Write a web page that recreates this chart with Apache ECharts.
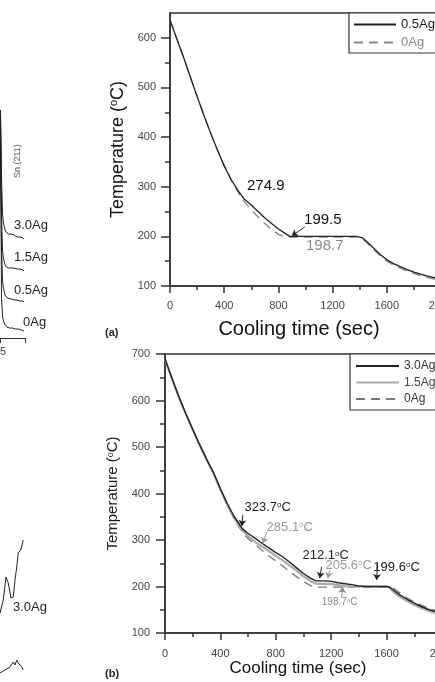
<!DOCTYPE html>
<html>
<head>
<meta charset="utf-8">
<script src="https://cdn.jsdelivr.net/npm/echarts@6/dist/echarts.min.js"></script>
<style>
html, body { margin: 0; padding: 0; background: #fff; }
#chart { width: 435px; height: 682px; }
</style>
</head>
<body>
<div id="chart"></div>
<script>
var FONT = "'Liberation Sans', Arial, sans-serif";

// (a) 冷却曲线
var timeA = [0, 50, 100, 150, 200, 250, 300, 350, 400, 450, 500, 545, 600, 650, 700, 750, 800, 850, 884, 950, 1050, 1150, 1250, 1380, 1420, 1450, 1500, 1550, 1600, 1650, 1700, 1750, 1800, 1850, 1900, 1950, 2000];
var tempA05 = [636, 598, 561, 521, 482, 444, 408, 374, 342, 315, 293, 276, 263, 250, 237, 226, 215, 206, 200, 200, 200, 200, 200, 200, 197, 190, 177, 164, 153, 145, 139, 133, 128, 124, 120, 117, 114];
var tempA0 = [636, 598, 561, 521, 482, 444, 408, 374, 342, 314, 290, 271, 253, 239, 226, 214, 204, 198.7, 198.7, 198.7, 198.7, 198.7, 198.7, 198.7, 195, 188, 174, 161, 150, 142, 136, 130, 125, 121, 117, 114, 111];

// (b) 冷却曲线
var timeB = [0, 50, 100, 150, 200, 250, 300, 350, 400, 450, 500, 560, 600, 650, 700, 750, 800, 850, 900, 950, 1000, 1050, 1090, 1150, 1200, 1250, 1300, 1350, 1400, 1450, 1500, 1550, 1600, 1620, 1650, 1700, 1750, 1800, 1850, 1900, 1950, 2000];
var tempB30 = [690, 648, 608, 572, 538, 505, 474, 445, 410, 378, 350, 324, 314, 304, 293, 283, 273, 264, 252, 240, 228, 218, 212, 212, 211, 208, 206, 204, 201, 200, 200, 200, 200, 199, 192, 181, 172, 164, 157, 151, 146, 141];
var tempB15 = [689, 647, 607, 571, 537, 504, 473, 443, 408, 376, 347, 320, 308, 296, 286, 276, 266, 256, 245, 234, 222, 212, 206, 205.6, 205, 203, 201, 200, 200, 200, 200, 200, 200, 198, 188, 177, 168, 160, 154, 148, 143, 138];
var tempB0 = [690, 648, 608, 572, 538, 505, 474, 445, 408, 375, 345, 316, 303, 290, 278, 266, 255, 244, 232, 221, 211, 202, 198.7, 198.7, 198.7, 198.7, 198.7, 198.7, 198.7, 198.7, 198.7, 198.7, 198.7, 198.7, 196, 185, 175, 167, 160, 154, 149, 144];

var timeTicks = [0, 400, 800, 1200, 1600, 2000];
var tempTicksA = [100, 200, 300, 400, 500, 600];
var tempMinorA = [150, 250, 350, 450, 550];

// 左侧 XRD（只露出一小段）
var xrdTheta = [44.9, 44.98, 45.02, 45.06, 45.1, 45.13, 45.18, 45.22, 45.27, 45.32, 45.38, 45.44, 45.5, 45.56, 45.62, 45.68, 45.74, 45.8, 45.86, 45.92, 45.96];
var xrd30 = [140, 200, 228, 160, 125, 116, 110, 107, 105, 104, 103, 104, 102, 103, 102, 101, 102, 101, 100, 100, 99];
var xrd15 = [100, 170, 222, 120, 88, 81, 75, 72, 71, 70, 71, 70, 69, 70, 69, 69, 70, 69, 68, 68, 67];
var xrd05 = [70, 140, 216, 90, 58, 51, 45, 42, 41, 40, 39, 39, 38, 38, 38, 38, 37, 37, 37, 37, 36];
var xrd0 = [40, 120, 210, 40, 22, 18, 14, 12, 11, 11, 10, 10, 10, 10, 9, 9, 9, 9, 8, 8, 7];
var xrdThetaB = [44.9, 45.0, 45.13, 45.24, 45.33, 45.44, 45.53, 45.6, 45.67, 45.73, 45.83, 45.91, 45.93];
var xrdB30 = [62, 69, 82, 105, 99, 84, 85, 102, 115, 129, 132, 140, 142];
var xrdLowTheta = [44.9, 45.0, 45.2, 45.4, 45.53, 45.6, 45.67, 45.73, 45.8, 45.87, 45.93];
var xrdLow = [8, 9, 12, 15, 20, 17, 22, 19, 21, 15, 12];

function pairs(xs, ys) {
	return xs.map(function(x, i) { return [x, ys[i]]; });
}

function note(text, coord, color, size) {
	return {
		coord: coord,
		label: { formatter: text, color: color, fontSize: size, rich: { s: { fontSize: size * 0.62, verticalAlign: 'top', color: color, fontFamily: FONT } } }
	};
}
function arrow(from, to, color) {
	return [{ coord: from, lineStyle: { color: color } }, { coord: to }];
}
function plain(v) {
	return String(v);
}

var axisLineStyle = { color: '#333', width: 1.5 };

function xrdLine(x, y, xi, yi) {
	return {
		type: 'line', xAxisIndex: xi, yAxisIndex: yi, data: pairs(x, y),
		symbol: 'none', silent: true, lineStyle: { color: '#222', width: 1 }
	};
}

var chart = echarts.init(document.getElementById('chart'));
chart.setOption({
	animation: false,
	backgroundColor: '#fff',
	textStyle: { fontFamily: FONT },
	grid: [
		{ left: -25, top: 98, width: 50, height: 240, outerBoundsMode: 'none' },
		{ left: -25, top: 500, width: 50, height: 182, outerBoundsMode: 'none' },
		{ left: 170, top: 13, width: 271, height: 273, outerBoundsMode: 'none', show: true, borderColor: '#333', borderWidth: 1.5 },
		{ left: 165, top: 354, width: 277, height: 279, outerBoundsMode: 'none', show: true, borderColor: '#333', borderWidth: 1.5 }
	],
	xAxis: [{
		gridIndex: 0, type: 'value', min: 44, max: 46, interval: 1,
		axisLine: { lineStyle: { color: '#333', width: 1 } },
		axisTick: { customValues: [45, 46], length: 5, lineStyle: { color: '#333' } },
		axisLabel: { customValues: [45], fontSize: 11, color: '#444', margin: 8 },
		splitLine: { show: false }
	}, {
		gridIndex: 1, type: 'value', min: 44, max: 46, show: false
	}, {
		gridIndex: 2, type: 'value', min: 0, max: 2000, interval: 400,
		name: 'Cooling time (sec)', nameLocation: 'middle', nameGap: 33,
		nameTextStyle: { fontSize: 20, color: '#111', padding: [0, 13, 0, 0] },
		axisLine: { lineStyle: axisLineStyle },
		axisTick: { length: 7, lineStyle: axisLineStyle },
		minorTick: { show: true, splitNumber: 2, length: 4, lineStyle: axisLineStyle },
		axisLabel: { customValues: timeTicks, formatter: plain, fontSize: 11, color: '#444', margin: 14 },
		splitLine: { show: false }
	}, {
		gridIndex: 3, type: 'value', min: 0, max: 2000, interval: 400,
		name: 'Cooling time (sec)', nameLocation: 'middle', nameGap: 26,
		nameTextStyle: { fontSize: 17, color: '#111', padding: [0, 11, 0, 0] },
		axisLine: { lineStyle: axisLineStyle },
		axisTick: { length: 7, lineStyle: axisLineStyle },
		minorTick: { show: true, splitNumber: 2, length: 4, lineStyle: axisLineStyle },
		axisLabel: { customValues: timeTicks, formatter: plain, fontSize: 11, color: '#444', margin: 15 },
		splitLine: { show: false }
	}],
	yAxis: [{
		gridIndex: 0, type: 'value', min: 0, max: 240, show: false
	}, {
		gridIndex: 1, type: 'value', min: 0, max: 182, show: false
	}, {
		gridIndex: 2, type: 'value', position: 'left', min: 100, max: 650,
		name: 'Temperature ({s|o}C)', nameLocation: 'middle', nameGap: 43,
		nameTextStyle: { fontSize: 18, color: '#111', rich: { s: { fontSize: 11, verticalAlign: 'top', color: '#111', fontFamily: FONT } } },
		axisLine: { lineStyle: axisLineStyle },
		axisTick: { customValues: tempTicksA, length: 9, lineStyle: axisLineStyle },
		axisLabel: { customValues: tempTicksA, fontSize: 11, color: '#444', margin: 14 },
		splitLine: { show: false }
	}, {
		gridIndex: 2, type: 'value', position: 'left', min: 100, max: 650,
		axisLine: { show: false },
		axisTick: { customValues: tempMinorA, length: 5, lineStyle: axisLineStyle },
		axisLabel: { show: false },
		splitLine: { show: false }
	}, {
		gridIndex: 3, type: 'value', position: 'left', min: 100, max: 700, interval: 100,
		name: 'Temperature ({s|o}C)', nameLocation: 'middle', nameGap: 40,
		nameTextStyle: { fontSize: 15, color: '#222', rich: { s: { fontSize: 9, verticalAlign: 'top', color: '#222', fontFamily: FONT } } },
		axisLine: { lineStyle: axisLineStyle },
		axisTick: { length: 9, lineStyle: axisLineStyle },
		minorTick: { show: true, splitNumber: 2, length: 5, lineStyle: axisLineStyle },
		axisLabel: { fontSize: 11, color: '#444', margin: 15 },
		splitLine: { show: false }
	}],
	legend: [{
		data: [{ name: '0.5Ag', textStyle: { color: '#222' } }, { name: '0Ag', textStyle: { color: '#888' } }],
		orient: 'vertical', left: 349, top: 13,
		itemWidth: 42, itemHeight: 14, itemGap: 5,
		padding: [5, 40, 4, 4],
		itemStyle: { opacity: 0 },
		borderColor: '#333', borderWidth: 1.2, backgroundColor: '#fff',
		selectedMode: false,
		textStyle: { fontSize: 13, fontFamily: FONT }
	}, {
		data: [{ name: '3.0Ag', textStyle: { color: '#333' } }, { name: '1.5Ag', textStyle: { color: '#444' } }, { name: '0Ag ', textStyle: { color: '#333' } }],
		orient: 'vertical', left: 350, top: 354,
		itemWidth: 43, itemHeight: 12, itemGap: 4.5,
		padding: [6, 40, 5, 5],
		itemStyle: { opacity: 0 },
		borderColor: '#333', borderWidth: 1.2, backgroundColor: '#fff',
		selectedMode: false,
		textStyle: { fontSize: 12, fontFamily: FONT }
	}],
	series: [
		xrdLine(xrdTheta, xrd0, 0, 0),
		xrdLine(xrdTheta, xrd05, 0, 0),
		xrdLine(xrdTheta, xrd15, 0, 0),
		xrdLine(xrdTheta, xrd30, 0, 0),
		xrdLine(xrdThetaB, xrdB30, 1, 1),
		xrdLine(xrdLowTheta, xrdLow, 1, 1),
		{
			name: '0Ag', type: 'line', xAxisIndex: 2, yAxisIndex: 2, data: pairs(timeA, tempA0),
			symbol: 'none', itemStyle: { color: '#888' }, lineStyle: { color: '#888', width: 1.3, type: [9, 6] }
		}, {
			name: '0.5Ag', type: 'line', xAxisIndex: 2, yAxisIndex: 2, data: pairs(timeA, tempA05),
			symbol: 'none', itemStyle: { color: '#222' }, lineStyle: { color: '#222', width: 1.3 },
			markPoint: {
				symbol: 'circle', symbolSize: 1, itemStyle: { color: 'transparent' },
				label: { show: true, position: 'inside', fontFamily: FONT },
				data: [
					note('274.9', [707, 302], '#111', 15),
					note('199.5', [1128, 233], '#111', 15),
					note('198.7', [1142, 181], '#888', 15)
				]
			},
			markLine: {
				silent: true, symbol: ['none', 'arrow'], symbolSize: 6,
				label: { show: false }, lineStyle: { type: 'solid', width: 1 },
				data: [arrow([995, 219], [899, 201], '#222')]
			}
		}, {
			name: '0Ag ', type: 'line', xAxisIndex: 3, yAxisIndex: 4, data: pairs(timeB, tempB0),
			symbol: 'none', itemStyle: { color: '#777' }, lineStyle: { color: '#777', width: 1.3, type: [9, 6] }
		}, {
			name: '1.5Ag', type: 'line', xAxisIndex: 3, yAxisIndex: 4, data: pairs(timeB, tempB15),
			symbol: 'none', itemStyle: { color: '#aaa' }, lineStyle: { color: '#aaa', width: 2.2 }
		}, {
			name: '3.0Ag', type: 'line', xAxisIndex: 3, yAxisIndex: 4, data: pairs(timeB, tempB30),
			symbol: 'none', itemStyle: { color: '#222' }, lineStyle: { color: '#222', width: 1.4 },
			markPoint: {
				symbol: 'circle', symbolSize: 1, itemStyle: { color: 'transparent' },
				label: { show: true, position: 'inside', fontFamily: FONT },
				data: [
					note('323.7{s|o}C', [742, 371], '#222', 13),
					note('285.1{s|o}C', [901, 328], '#999', 13),
					note('212.1{s|o}C', [1160, 266], '#222', 13),
					note('205.6{s|o}C', [1326, 246], '#999', 13),
					note('199.6{s|o}C', [1672, 242], '#222', 13),
					note('198.7{s|o}C', [1261, 167], '#888', 10)
				]
			},
			markLine: {
				silent: true, symbol: ['none', 'arrow'], symbolSize: 6,
				label: { show: false }, lineStyle: { type: 'solid', width: 1 },
				data: [
					arrow([562, 354], [555, 330], '#222'),
					arrow([735, 317], [706, 293], '#999'),
					arrow([1131, 242], [1117, 218], '#222'),
					arrow([1189, 235], [1175, 218], '#999'),
					arrow([1535, 250], [1528, 214], '#222'),
					arrow([1276, 177], [1283, 199], '#888')
				]
			}
		}
	],
	graphic: [
		{ type: 'text', x: 105, y: 327, style: { text: '(a)', font: 'bold 11px ' + FONT, fill: '#222' } },
		{ type: 'text', x: 105, y: 668, style: { text: '(b)', font: 'bold 11px ' + FONT, fill: '#222' } },
		{ type: 'text', x: 13, y: 178, rotation: Math.PI / 2, style: { text: 'Sn (211)', font: '9px ' + FONT, fill: '#555' } },
		{ type: 'text', x: 14, y: 225, style: { text: '3.0Ag', font: '13px ' + FONT, fill: '#222', verticalAlign: 'middle' } },
		{ type: 'text', x: 14, y: 257, style: { text: '1.5Ag', font: '13px ' + FONT, fill: '#222', verticalAlign: 'middle' } },
		{ type: 'text', x: 14, y: 290, style: { text: '0.5Ag', font: '13px ' + FONT, fill: '#222', verticalAlign: 'middle' } },
		{ type: 'text', x: 23, y: 322, style: { text: '0Ag', font: '13px ' + FONT, fill: '#222', verticalAlign: 'middle' } },
		{ type: 'text', x: 13, y: 607, style: { text: '3.0Ag', font: '13px ' + FONT, fill: '#222', verticalAlign: 'middle' } }
	]
});
</script>
</body>
</html>
